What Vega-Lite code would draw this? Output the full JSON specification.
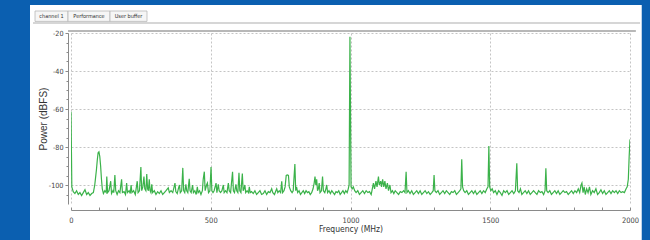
{
  "$schema": "https://vega.github.io/schema/vega-lite/v6.json",
  "width": 559,
  "height": 171,
  "autosize": {"type": "none"},
  "padding": {"left": 71, "top": 33, "right": 20, "bottom": 36},
  "background": "#ffffff",
  "config": {
    "view": {"stroke": null},
    "font": "Liberation Sans"
  },
  "resolve": {"axis": {"x": "independent", "y": "independent"}},
  "datasets": {
    "blue": [
      {"x1": -400, "x2": -146.7, "y1": 20, "y2": -200},
      {"x1": 2042, "x2": 2300, "y1": 20, "y2": -200},
      {"x1": -400, "x2": 2300, "y1": 20, "y2": -5.26}
    ],
    "strip": [{"x1": -136, "x2": 2036, "y": -14.7}],
    "frame": [{"x1": -10.7, "x2": 2021, "y": -18.95}],
    "tabs": [
      {"name": "channel 1", "x1": -128.8, "x2": -10.7, "xc": -69.8, "y1": -8.42, "y2": -13.9, "yc": -11.2},
      {"name": "Performance", "x1": -10.7, "x2": 139.5, "xc": 64.4, "y1": -8.42, "y2": -13.9, "yc": -11.2},
      {"name": "User buffer", "x1": 139.5, "x2": 271.9, "xc": 205.7, "y1": -8.42, "y2": -13.9, "yc": -11.2}
    ],
    "spec": [
      {"f":0,"p":-61.5},{"f":3,"p":-101},{"f":8,"p":-103.5},{"f":14,"p":-104.5},{"f":20,"p":-103},{"f":26,"p":-105},{"f":32,"p":-104},{"f":38,"p":-105.5},{"f":44,"p":-104},{"f":50,"p":-102.5},{"f":56,"p":-105},{"f":62,"p":-104},{"f":68,"p":-105.5},{"f":74,"p":-104.5},{"f":80,"p":-104},
      {"f":85,"p":-100},{"f":88,"p":-96},{"f":91,"p":-92},{"f":94,"p":-87},{"f":97,"p":-83},{"f":100,"p":-82.5},{"f":103,"p":-85},{"f":106,"p":-90},{"f":109,"p":-97},{"f":112,"p":-102},{"f":116,"p":-104.5},{"f":121,"p":-103},{"f":126,"p":-104},{"f":128,"p":-95.6},{"f":131,"p":-104},{"f":136,"p":-103},{"f":142,"p":-98},{"f":145,"p":-104.5},{"f":150,"p":-103},{"f":153,"p":-104},{"f":157,"p":-94.7},{"f":160,"p":-103},{"f":165,"p":-105},{"f":170,"p":-103},{"f":175,"p":-104},{"f":181,"p":-97},{"f":184,"p":-104},{"f":190,"p":-103.5},{"f":195,"p":-105},{"f":199,"p":-99},{"f":202,"p":-104},{"f":208,"p":-103},{"f":212,"p":-104.5},{"f":215,"p":-100},{"f":218,"p":-104},{"f":224,"p":-103},{"f":230,"p":-105},{"f":237,"p":-98},{"f":240,"p":-104},{"f":245,"p":-103},{"f":250,"p":-90.5},{"f":253,"p":-103},{"f":257,"p":-101},{"f":261,"p":-95.6},{"f":264,"p":-102},{"f":268,"p":-103},{"f":271,"p":-94.2},{"f":274,"p":-102},{"f":277,"p":-103},{"f":280,"p":-97},{"f":283,"p":-103},{"f":286,"p":-104},{"f":289,"p":-99.7},{"f":292,"p":-104},{"f":298,"p":-103},
      {"f":304,"p":-105},{"f":310,"p":-103.5},{"f":316,"p":-104.5},{"f":322,"p":-103},{"f":328,"p":-105},{"f":334,"p":-104},{"f":340,"p":-103},{"f":348,"p":-101.5},{"f":352,"p":-104},{"f":358,"p":-103},{"f":364,"p":-104},{"f":372,"p":-99},{"f":375,"p":-103.5},{"f":380,"p":-104.5},{"f":384,"p":-102},{"f":388,"p":-100},{"f":391,"p":-104},{"f":396,"p":-103},{"f":400,"p":-91},{"f":403,"p":-103},{"f":407,"p":-104},{"f":411,"p":-99.7},{"f":414,"p":-103},{"f":418,"p":-104},{"f":423,"p":-96.7},{"f":426,"p":-103},{"f":430,"p":-104},{"f":435,"p":-100},{"f":438,"p":-104},{"f":443,"p":-103},{"f":448,"p":-105},{"f":452,"p":-101},{"f":455,"p":-104},{"f":460,"p":-103},{"f":465,"p":-105},{"f":470,"p":-103},{"f":473,"p":-97},{"f":477,"p":-93},{"f":480,"p":-103},{"f":485,"p":-100},{"f":488,"p":-99},{"f":492,"p":-104},{"f":497,"p":-103},
      {"f":501,"p":-90.5},{"f":504,"p":-103},{"f":508,"p":-104},{"f":512,"p":-103},{"f":519,"p":-99},{"f":522,"p":-104},{"f":527,"p":-99.6},{"f":530,"p":-103},{"f":535,"p":-104},{"f":540,"p":-103},{"f":545,"p":-100},{"f":548,"p":-104},{"f":553,"p":-103},{"f":558,"p":-104},{"f":563,"p":-99},{"f":566,"p":-103},{"f":571,"p":-104},{"f":578,"p":-93},{"f":581,"p":-103},{"f":585,"p":-104},{"f":590,"p":-99.6},{"f":593,"p":-103},{"f":597,"p":-104},{"f":601,"p":-93.6},{"f":604,"p":-103},{"f":608,"p":-104},{"f":613,"p":-94},{"f":616,"p":-103},{"f":619,"p":-102},{"f":622,"p":-100},{"f":625,"p":-104},{"f":630,"p":-103},{"f":635,"p":-104},{"f":638,"p":-101},{"f":641,"p":-104},{"f":646,"p":-103.5},{"f":652,"p":-104.5},{"f":658,"p":-103},{"f":664,"p":-105},{"f":670,"p":-104},{"f":676,"p":-103},{"f":682,"p":-105},{"f":688,"p":-104.5},{"f":694,"p":-103},{"f":700,"p":-105},{"f":706,"p":-103.5},{"f":712,"p":-104},{"f":718,"p":-102},{"f":722,"p":-104},{"f":728,"p":-105},{"f":733,"p":-103},{"f":736,"p":-102},{"f":740,"p":-104},{"f":745,"p":-103},{"f":750,"p":-104},{"f":754,"p":-98},{"f":757,"p":-104},{"f":762,"p":-103},{"f":766,"p":-101},{"f":770,"p":-95},{"f":774,"p":-94.7},{"f":778,"p":-95},{"f":781,"p":-101},{"f":786,"p":-103},{"f":791,"p":-104},{"f":795,"p":-103},
      {"f":801,"p":-89},{"f":804,"p":-103},{"f":807,"p":-101},{"f":811,"p":-104},{"f":816,"p":-103},{"f":821,"p":-105},{"f":826,"p":-104},{"f":831,"p":-103},{"f":836,"p":-104.5},{"f":841,"p":-103},{"f":846,"p":-104},{"f":851,"p":-103.5},{"f":856,"p":-105},{"f":861,"p":-104},{"f":866,"p":-102},{"f":870,"p":-99},{"f":873,"p":-95.6},{"f":876,"p":-100},{"f":879,"p":-97},{"f":882,"p":-103},{"f":885,"p":-102},{"f":888,"p":-99},{"f":891,"p":-104},{"f":896,"p":-103},{"f":900,"p":-95.6},{"f":903,"p":-103},{"f":908,"p":-104},{"f":912,"p":-102},{"f":915,"p":-100},{"f":918,"p":-104},{"f":923,"p":-103},{"f":928,"p":-104.5},{"f":933,"p":-103},{"f":938,"p":-104},{"f":943,"p":-105},{"f":948,"p":-103.5},{"f":953,"p":-104},{"f":958,"p":-103},{"f":963,"p":-105},{"f":968,"p":-104},{"f":973,"p":-103},{"f":978,"p":-104.5},{"f":983,"p":-103},{"f":988,"p":-104},{"f":992,"p":-102},{"f":995,"p":-100},
      {"f":998,"p":-22},{"f":1002,"p":-101},{"f":1006,"p":-102},{"f":1010,"p":-101},{"f":1015,"p":-103},{"f":1020,"p":-104},{"f":1026,"p":-103},{"f":1032,"p":-105},{"f":1038,"p":-104},{"f":1044,"p":-103},{"f":1050,"p":-104.5},{"f":1056,"p":-103},{"f":1062,"p":-104},{"f":1068,"p":-103.5},{"f":1074,"p":-105},{"f":1078,"p":-102},{"f":1082,"p":-99},{"f":1086,"p":-102},{"f":1091,"p":-98},{"f":1095,"p":-101},{"f":1100,"p":-95.6},{"f":1103,"p":-100},{"f":1108,"p":-98},{"f":1111,"p":-101},{"f":1115,"p":-97},{"f":1119,"p":-101},{"f":1123,"p":-98},{"f":1127,"p":-102},{"f":1132,"p":-99},{"f":1136,"p":-103},{"f":1141,"p":-100},{"f":1145,"p":-104},{"f":1150,"p":-103},{"f":1155,"p":-104.5},{"f":1160,"p":-103},{"f":1166,"p":-104},{"f":1172,"p":-105},{"f":1178,"p":-103.5},{"f":1184,"p":-104},{"f":1190,"p":-103},{"f":1195,"p":-104},
      {"f":1199,"p":-93},{"f":1202,"p":-104},{"f":1207,"p":-103},{"f":1213,"p":-104.5},{"f":1219,"p":-103},{"f":1225,"p":-105},{"f":1231,"p":-104},{"f":1237,"p":-103},{"f":1243,"p":-104.5},{"f":1249,"p":-103},{"f":1255,"p":-105},{"f":1261,"p":-104},{"f":1267,"p":-103},{"f":1273,"p":-104.5},{"f":1279,"p":-103.5},{"f":1285,"p":-105},{"f":1291,"p":-104},{"f":1296,"p":-103},{"f":1299,"p":-94.7},{"f":1302,"p":-103},{"f":1307,"p":-104},{"f":1313,"p":-103},{"f":1319,"p":-105},{"f":1325,"p":-104},{"f":1331,"p":-103},{"f":1337,"p":-104.5},{"f":1343,"p":-103},{"f":1349,"p":-104},{"f":1355,"p":-105},{"f":1361,"p":-103.5},{"f":1367,"p":-104},{"f":1373,"p":-103},{"f":1379,"p":-105},{"f":1385,"p":-104},{"f":1391,"p":-103},{"f":1395,"p":-102},
      {"f":1398,"p":-86.5},{"f":1401,"p":-101},{"f":1405,"p":-103},{"f":1410,"p":-104},{"f":1416,"p":-103},{"f":1422,"p":-105},{"f":1428,"p":-104},{"f":1434,"p":-103},{"f":1440,"p":-104.5},{"f":1446,"p":-103},{"f":1452,"p":-105},{"f":1458,"p":-104},{"f":1464,"p":-103},{"f":1470,"p":-104.5},{"f":1476,"p":-103},{"f":1482,"p":-104},{"f":1488,"p":-102},{"f":1492,"p":-101},
      {"f":1495,"p":-79.5},{"f":1498,"p":-101},{"f":1502,"p":-103},{"f":1507,"p":-102},{"f":1512,"p":-104},{"f":1518,"p":-103},{"f":1524,"p":-105},{"f":1530,"p":-103},{"f":1536,"p":-104},{"f":1542,"p":-105.5},{"f":1548,"p":-103},{"f":1554,"p":-104},{"f":1560,"p":-103},{"f":1566,"p":-105},{"f":1572,"p":-104},{"f":1578,"p":-103},{"f":1584,"p":-104.5},{"f":1590,"p":-103},
      {"f":1595,"p":-88.6},{"f":1598,"p":-103},{"f":1603,"p":-104},{"f":1608,"p":-102},{"f":1613,"p":-105},{"f":1619,"p":-104},{"f":1625,"p":-103},{"f":1631,"p":-104.5},{"f":1637,"p":-103},{"f":1643,"p":-105},{"f":1649,"p":-104},{"f":1655,"p":-103},{"f":1661,"p":-104},{"f":1667,"p":-105},{"f":1673,"p":-103},{"f":1679,"p":-104},{"f":1685,"p":-103.5},{"f":1691,"p":-105},{"f":1696,"p":-103},
      {"f":1699,"p":-91.2},{"f":1702,"p":-103},{"f":1707,"p":-104},{"f":1713,"p":-103},{"f":1719,"p":-105},{"f":1725,"p":-104},{"f":1731,"p":-103},{"f":1737,"p":-104.5},{"f":1743,"p":-103},{"f":1749,"p":-105},{"f":1755,"p":-104},{"f":1761,"p":-103},{"f":1767,"p":-104},{"f":1773,"p":-103.5},{"f":1779,"p":-105},{"f":1785,"p":-104},{"f":1791,"p":-103},{"f":1797,"p":-104.5},{"f":1803,"p":-103},{"f":1809,"p":-104},{"f":1815,"p":-102},{"f":1820,"p":-104},{"f":1825,"p":-100},{"f":1828,"p":-99},{"f":1832,"p":-104},{"f":1836,"p":-101},{"f":1840,"p":-105},{"f":1845,"p":-102},{"f":1850,"p":-104},{"f":1855,"p":-101},{"f":1860,"p":-105},{"f":1866,"p":-103},{"f":1872,"p":-104},{"f":1878,"p":-102},{"f":1884,"p":-105},{"f":1890,"p":-104},{"f":1896,"p":-102.5},{"f":1902,"p":-104.5},{"f":1908,"p":-103},{"f":1914,"p":-105},{"f":1920,"p":-104},{"f":1926,"p":-103},{"f":1932,"p":-104.5},{"f":1938,"p":-103},{"f":1944,"p":-104},{"f":1950,"p":-103},{"f":1956,"p":-104.5},{"f":1962,"p":-103},{"f":1968,"p":-104},{"f":1974,"p":-103.5},{"f":1980,"p":-104},{"f":1986,"p":-102},{"f":1990,"p":-101},{"f":1994,"p":-97},{"f":1997,"p":-85},{"f":2000,"p":-76}
    ]
  },
  "layer": [
    {
      "data": {"name": "spec"},
      "mark": {"type": "line", "color": "#3bb24a", "strokeWidth": 1.2, "clip": true},
      "encoding": {
        "x": {"field": "f", "type": "quantitative", "scale": {"domain": [0, 2000], "nice": false, "zero": false},
          "axis": {
            "orient": "bottom",
            "title": "Frequency (MHz)",
            "values": [0, 500, 1000, 1500, 2000],
            "format": "d",
            "labelOverlap": false,
            "offset": 6,
            "domainColor": "#8a8a8a",
            "tickColor": "#8a8a8a",
            "tickSize": 0,
            "labelPadding": 6,
            "labelFont": "DejaVu Sans Condensed",
            "labelFontSize": 7.5,
            "labelColor": "#444444",
            "labelFlush": false,
            "titleFont": "DejaVu Sans Condensed",
            "titleFontSize": 8.5,
            "titleFontWeight": "normal",
            "titleColor": "#333333",
            "titlePadding": 1,
            "grid": true,
            "gridColor": "#c4c4c4",
            "gridDash": [2, 2]
          }
        },
        "y": {"field": "p", "type": "quantitative", "scale": {"domain": [-110, -20], "nice": false, "zero": false},
          "axis": {
            "orient": "left",
            "title": "Power (dBFS)",
            "values": [-20, -40, -60, -80, -100],
            "labelExpr": "toString(datum.value)",
            "labelOverlap": false,
            "offset": 3,
            "domainColor": "#8a8a8a",
            "tickColor": "#8a8a8a",
            "tickSize": 3,
            "labelPadding": 2,
            "labelFont": "DejaVu Sans Condensed",
            "labelFontSize": 7.2,
            "labelColor": "#444444",
            "titleFont": "Liberation Sans",
            "titleFontSize": 10,
            "titleFontWeight": "normal",
            "titleColor": "#333333",
            "titlePadding": 0,
            "grid": true,
            "gridColor": "#c4c4c4",
            "gridDash": [2, 2]
          }
        }
      }
    },
    {
      "data": {"name": "blue"},
      "mark": {"type": "rect", "fill": "#0b5fb0", "stroke": null},
      "encoding": {
        "x": {"field": "x1", "type": "quantitative",
          "axis": {"orient": "bottom", "offset": 6, "values": [0,100,200,300,400,500,600,700,800,900,1000,1100,1200,1300,1400,1500,1600,1700,1800,1900,2000], "labels": false, "grid": false, "domain": false, "title": null, "tickColor": "#8a8a8a", "tickSize": -3}},
        "x2": {"field": "x2"},
        "y": {"field": "y1", "type": "quantitative",
          "axis": {"orient": "left", "offset": 3, "values": [-20,-25,-30,-35,-40,-45,-50,-55,-60,-65,-70,-75,-80,-85,-90,-95,-100,-105], "labels": false, "grid": false, "domain": false, "title": null, "tickColor": "#8a8a8a", "tickSize": 2}},
        "y2": {"field": "y2"}
      }
    },
    {
      "data": {"name": "strip"},
      "mark": {"type": "rule", "color": "#d6d6d6", "strokeWidth": 2},
      "encoding": {
        "x": {"field": "x1", "type": "quantitative", "axis": null},
        "x2": {"field": "x2"},
        "y": {"field": "y", "type": "quantitative", "axis": null}
      }
    },
    {
      "data": {"name": "tabs"},
      "mark": {"type": "rect", "fill": "#f6f6f6", "stroke": "#b8b8b8", "strokeWidth": 0.8},
      "encoding": {
        "x": {"field": "x1", "type": "quantitative", "axis": null},
        "x2": {"field": "x2"},
        "y": {"field": "y1", "type": "quantitative", "axis": null},
        "y2": {"field": "y2"}
      }
    },
    {
      "data": {"name": "tabs"},
      "mark": {"type": "text", "font": "DejaVu Sans Condensed", "fontSize": 5.5, "color": "#333333", "align": "center", "baseline": "middle"},
      "encoding": {
        "x": {"field": "xc", "type": "quantitative", "axis": null},
        "y": {"field": "yc", "type": "quantitative", "axis": null},
        "text": {"field": "name", "type": "nominal"}
      }
    },
    {
      "data": {"name": "frame"},
      "mark": {"type": "rule", "color": "#a0a0a0", "strokeWidth": 1.5},
      "encoding": {
        "x": {"field": "x1", "type": "quantitative", "axis": null},
        "x2": {"field": "x2"},
        "y": {"field": "y", "type": "quantitative", "axis": null}
      }
    }
  ]
}
